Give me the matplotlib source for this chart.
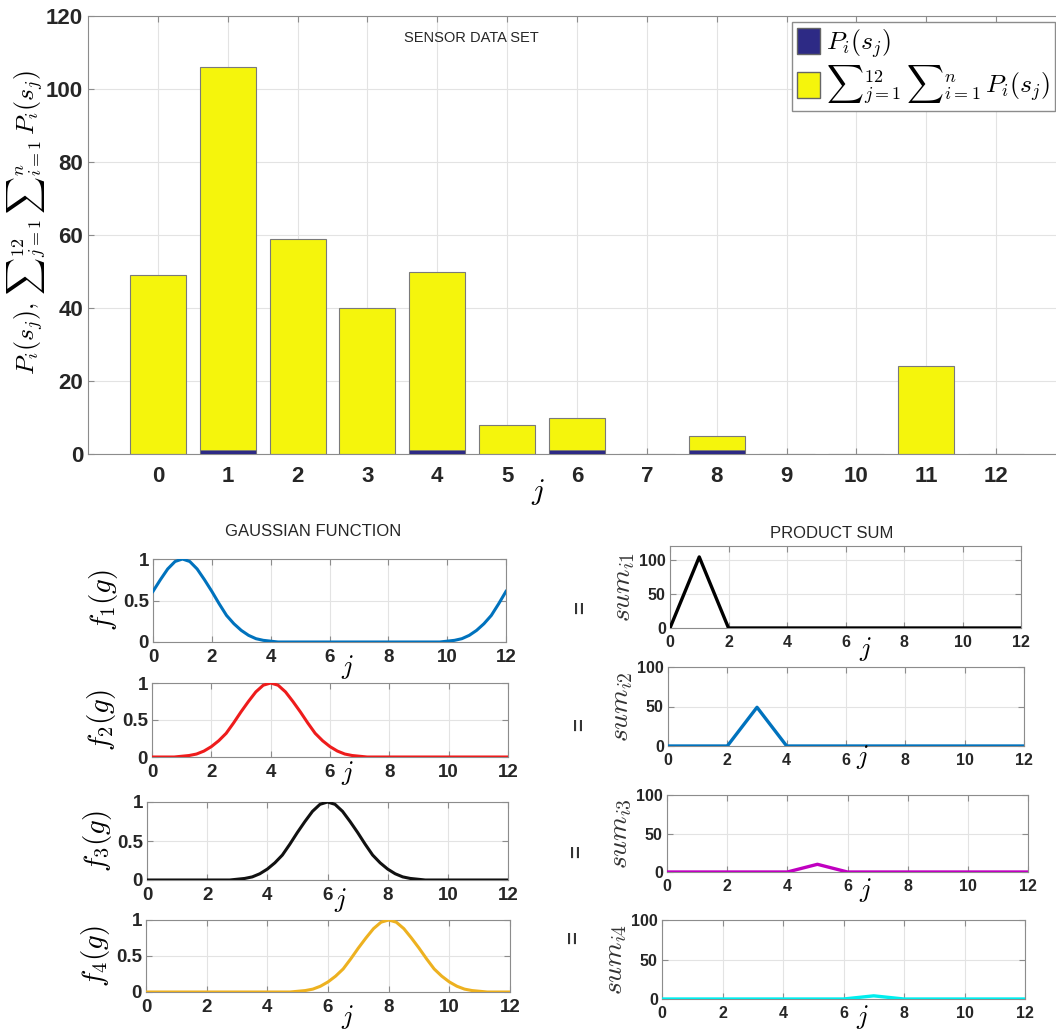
import matplotlib

matplotlib.use("Agg")
import matplotlib.pyplot as plt
import numpy as np
from matplotlib.patches import Patch

plt.rcParams.update({
    "font.family": ["Liberation Sans", "DejaVu Sans"],
    "mathtext.fontset": "cm",
    "axes.edgecolor": "#8c8c8c",
    "xtick.color": "#8c8c8c",
    "ytick.color": "#8c8c8c",
    "xtick.labelcolor": "#262626",
    "ytick.labelcolor": "#262626",
})

# sensor data set (top bar chart)
j_cats = np.arange(13)
p_is = [0, 1, 0, 0, 1, 0, 1, 0, 1, 0, 0, 0, 0]
total_sum = [49, 106, 59, 40, 50, 8, 10, 0, 5, 0, 0, 24, 0]

# gaussian functions, sampled every 0.25 along j
g_x = np.linspace(0, 12, 49)
f1 = [0.61, 0.75, 0.88, 0.97, 1.00, 0.97, 0.88, 0.75, 0.61, 0.46, 0.32, 0.22, 0.14, 0.08, 0.04, 0.02, 0.01,
      0.00, 0.00, 0.00, 0.00, 0.00, 0.00, 0.00, 0.00, 0.00, 0.00, 0.00, 0.00, 0.00, 0.00, 0.00, 0.00,
      0.00, 0.00, 0.00, 0.00, 0.00, 0.00, 0.00,
      0.01, 0.02, 0.04, 0.08, 0.14, 0.22, 0.32, 0.46, 0.61]
f2 = [0.00, 0.00, 0.00, 0.00,
      0.01, 0.02, 0.04, 0.08, 0.14, 0.22, 0.32, 0.46, 0.61, 0.75, 0.88, 0.97, 1.00,
      0.97, 0.88, 0.75, 0.61, 0.46, 0.32, 0.22, 0.14, 0.08, 0.04, 0.02, 0.01,
      0.00, 0.00, 0.00, 0.00, 0.00, 0.00, 0.00, 0.00, 0.00, 0.00, 0.00, 0.00, 0.00, 0.00, 0.00, 0.00,
      0.00, 0.00, 0.00, 0.00]
f3 = [0.00, 0.00, 0.00, 0.00, 0.00, 0.00, 0.00, 0.00, 0.00, 0.00, 0.00, 0.00,
      0.01, 0.02, 0.04, 0.08, 0.14, 0.22, 0.32, 0.46, 0.61, 0.75, 0.88, 0.97, 1.00,
      0.97, 0.88, 0.75, 0.61, 0.46, 0.32, 0.22, 0.14, 0.08, 0.04, 0.02, 0.01,
      0.00, 0.00, 0.00, 0.00, 0.00, 0.00, 0.00, 0.00, 0.00, 0.00, 0.00, 0.00]
f4 = [0.00, 0.00, 0.00, 0.00, 0.00, 0.00, 0.00, 0.00, 0.00, 0.00, 0.00, 0.00, 0.00, 0.00, 0.00, 0.00,
      0.00, 0.00, 0.00, 0.00,
      0.01, 0.02, 0.04, 0.08, 0.14, 0.22, 0.32, 0.46, 0.61, 0.75, 0.88, 0.97, 1.00,
      0.97, 0.88, 0.75, 0.61, 0.46, 0.32, 0.22, 0.14, 0.08, 0.04, 0.02, 0.01,
      0.00, 0.00, 0.00, 0.00]

# product sums per gaussian
sum_i1 = [0, 104, 0, 0, 0, 0, 0, 0, 0, 0, 0, 0, 0]
sum_i2 = [0, 0, 0, 49, 0, 0, 0, 0, 0, 0, 0, 0, 0]
sum_i3 = [0, 0, 0, 0, 0, 10, 0, 0, 0, 0, 0, 0, 0]
sum_i4 = [0, 0, 0, 0, 0, 0, 0, 4, 0, 0, 0, 0, 0]

W, H = 1056, 1030
fig = plt.figure(figsize=(W / 100, H / 100), dpi=100)


def add_ax(left, right, top, bottom):
    return fig.add_axes([left / W, 1 - bottom / H, (right - left) / W, (bottom - top) / H])


def ftext(x, y, s, **kw):
    fig.text(x / W, 1 - y / H, s, ha="center", va="center", **kw)


def style(ax, size):
    ax.grid(True, color="#e3e3e3", linewidth=0.8)
    ax.set_axisbelow(True)
    ax.tick_params(direction="in", top=True, right=True, length=4, labelsize=size)
    for lab in ax.get_xticklabels() + ax.get_yticklabels():
        lab.set_fontweight("bold")


navy = "#2d2a85"
yellow = "#f5f50c"
sum_text = r"{\sum}_{j=1}^{12}\,{\sum}_{i=1}^{n}\,P_i(s_j)"

# --- top bar chart
ax = add_ax(88, 1066, 16, 454)
ax.bar(j_cats, total_sum, width=0.8, color=yellow, edgecolor="#7a7a7a", linewidth=0.8, zorder=2)
ax.bar(j_cats, p_is, width=0.8, color=navy, edgecolor="#7a7a7a", linewidth=0.5, zorder=3)
ax.set_xlim(-1, 13)
ax.set_ylim(0, 120)
ax.set_xticks(j_cats)
ax.set_yticks(np.arange(0, 121, 20))
style(ax, 16)
ax.tick_params(axis="x", pad=9)
ftext(471, 38, "SENSOR DATA SET", fontsize=10.5, color="#262626")
ftext(538, 492, "$j$", fontsize=21)
ftext(27, 222, r"$P_i(s_j),\," + sum_text + "$", fontsize=18.5, rotation=90)
handles = [Patch(facecolor=navy, edgecolor="#666666"), Patch(facecolor=yellow, edgecolor="#666666")]
leg = ax.legend(handles, [r"$P_i(s_j)$", "$" + sum_text + "$"],
                loc="upper right", bbox_to_anchor=(1055 / W, 1 - 22 / H), bbox_transform=fig.transFigure,
                fontsize=18.5, handlelength=0.9, handleheight=1.15, handletextpad=0.2,
                borderpad=0.2, labelspacing=0.15, borderaxespad=0, fancybox=False, framealpha=1)
leg.get_frame().set_edgecolor("#8c8c8c")

# --- gaussian panels (left)
ftext(313, 531, "GAUSSIAN FUNCTION", fontsize=12, color="#262626")
left_boxes = [(153, 506, 559, 642), (152, 508, 683, 757), (147, 508, 802, 880), (146, 510, 920, 992)]
f_series = [f1, f2, f3, f4]
f_colors = ["#0072bd", "#ee1c1c", "#111111", "#edb120"]
f_labels = [r"$f_1(g)$", r"$f_2(g)$", r"$f_3(g)$", r"$f_4(g)$"]
j_left = [(347, 667), (347, 773), (340, 900), (347, 1017)]
for box, ys, col, lab, jp in zip(left_boxes, f_series, f_colors, f_labels, j_left):
    a = add_ax(*box)
    a.plot(g_x, ys, color=col, linewidth=2.2, zorder=3)
    a.set_xlim(0, 12)
    a.set_ylim(0, 1)
    a.set_xticks(np.arange(0, 13, 2))
    a.set_yticks([0, 0.5, 1])
    a.set_yticklabels(["0", "0.5", "1"])
    style(a, 13.5)
    a.tick_params(axis="x", pad=5)
    a.tick_params(axis="y", pad=3)
    ftext(jp[0], jp[1], "$j$", fontsize=19)
    ftext(box[0] - 50, (box[2] + box[3]) / 2, lab, fontsize=21, rotation=90)

# --- product sum panels (right)
ftext(832, 533, "PRODUCT SUM", fontsize=12, color="#262626")
right_boxes = [(670, 1021, 546, 628), (668, 1024, 667, 746), (667, 1028, 795, 872), (662, 1025, 920, 999)]
s_series = [sum_i1, sum_i2, sum_i3, sum_i4]
s_colors = ["#000000", "#0072bd", "#c000c0", "#00eeee"]
s_labels = [r"$sum_{i1}$", r"$sum_{i2}$", r"$sum_{i3}$", r"$sum_{i4}$"]
s_top = [120, 100, 100, 100]
j_right = [(865, 649), (862, 757), (865, 890), (862, 1017)]
eq_pos = [(582, 608), (581, 725), (578, 852), (575, 938)]
for box, ys, col, lab, top, jp, eq in zip(right_boxes, s_series, s_colors, s_labels, s_top, j_right, eq_pos):
    a = add_ax(*box)
    a.plot(j_cats, ys, color=col, linewidth=2.4, zorder=3)
    a.set_xlim(0, 12)
    a.set_ylim(0, top)
    a.set_xticks(np.arange(0, 13, 2))
    a.set_yticks([0, 50, 100])
    style(a, 11.5)
    a.tick_params(axis="x", pad=5)
    a.tick_params(axis="y", pad=3)
    ftext(jp[0], jp[1], "$j$", fontsize=19)
    ftext(box[0] - 46, (box[2] + box[3]) / 2, lab, fontsize=20, rotation=90, color="#333333")
    ftext(eq[0], eq[1], "=", fontsize=16, rotation=90, fontweight="bold", color="#333333")

fig.savefig("out.png", dpi=100)
